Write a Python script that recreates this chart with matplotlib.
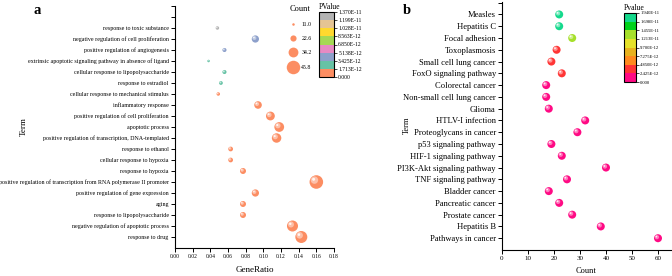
import matplotlib
matplotlib.use("Agg")
import matplotlib.pyplot as plt
import matplotlib.colors as mcolors
from matplotlib.colorbar import ColorbarBase
from matplotlib.lines import Line2D
from matplotlib.transforms import offset_copy

plt.rcParams["font.family"] = ["Liberation Serif", "DejaVu Serif"]

DPI = 100

# ---- panel a: GO terms (top to bottom) ----
go_terms = [
    "response to toxic substance",
    "negative regulation of cell proliferation",
    "positive regulation of angiogenesis",
    "extrinsic apoptotic signaling pathway in absence of ligand",
    "cellular response to lipopolysaccharide",
    "response to estradiol",
    "cellular response to mechanical stimulus",
    "inflammatory response",
    "positive regulation of cell proliferation",
    "apoptotic process",
    "positive regulation of transcription, DNA-templated",
    "response to ethanol",
    "cellular response to hypoxia",
    "response to hypoxia",
    "positive regulation of transcription from RNA polymerase II promoter",
    "positive regulation of gene expression",
    "aging",
    "response to lipopolysaccharide",
    "negative regulation of apoptotic process",
    "response to drug",
]
go_ratio = [0.048, 0.091, 0.056, 0.038, 0.056, 0.052, 0.049, 0.094, 0.108, 0.118,
            0.115, 0.063, 0.063, 0.077, 0.160, 0.091, 0.077, 0.077, 0.133, 0.143]
go_count = [14, 26, 16, 11, 16, 15, 14, 27, 31, 34,
            33, 18, 18, 22, 46, 26, 22, 22, 38, 41]
go_pvalue = [1.30e-11, 4.5e-12, 4.5e-12, 2.5e-12, 2.5e-12, 2.5e-12, 8e-13, 3e-13, 2e-13, 1e-13,
             1e-13, 5e-13, 5e-13, 4e-13, 1e-14, 3e-13, 6e-13, 6e-13, 1e-14, 1e-14]
go_bounds = [0, 1.713e-12, 3.425e-12, 5.138e-12, 6.850e-12, 8.563e-12, 1.028e-11, 1.199e-11, 1.370e-11]
go_bound_labels = ["0.000", "1.713E-12", "3.425E-12", "5.138E-12", "6.850E-12",
                   "8.563E-12", "1.028E-11", "1.199E-11", "1.370E-11"]
go_colors = ["#FC8D62", "#66C2A5", "#8DA0CB", "#E78AC3", "#A6D854", "#FFD92F", "#E5C494", "#B3B3B3"]
count_legend = [11.0, 22.6, 34.2, 45.8]

# ---- panel b: KEGG pathways (top to bottom) ----
kegg_terms = [
    "Measles", "Hepatitis C", "Focal adhesion", "Toxoplasmosis", "Small cell lung cancer",
    "FoxO signaling pathway", "Colorectal cancer", "Non-small cell lung cancer", "Glioma",
    "HTLV-I infection", "Proteoglycans in cancer", "p53 signaling pathway",
    "HIF-1 signaling pathway", "PI3K-Akt signaling pathway", "TNF signaling pathway",
    "Bladder cancer", "Pancreatic cancer", "Prostate cancer", "Hepatitis B", "Pathways in cancer",
]
kegg_count = [22, 22, 27, 21, 19, 23, 17, 17, 18, 32, 29, 19, 23, 40, 25, 18, 22, 27, 38, 60]
kegg_pvalue = [1.85e-11, 1.85e-11, 1.33e-11, 3.5e-12, 3.5e-12, 3.5e-12, 5e-13, 5e-13, 5e-13, 3e-13,
               3e-13, 5e-13, 3e-13, 2e-13, 3e-13, 5e-13, 3e-13, 3e-13, 1e-13, 1e-14]
kegg_bounds = [0, 2.425e-12, 4.850e-12, 7.275e-12, 9.700e-12, 1.213e-11, 1.455e-11, 1.698e-11, 1.940e-11]
kegg_bound_labels = ["0.000", "2.425E-12", "4.850E-12", "7.275E-12", "9.700E-12",
                     "1.213E-11", "1.455E-11", "1.698E-11", "1.940E-11"]
kegg_colors = ["#FF0A84", "#FF3535", "#FF8A1E", "#E8B21E", "#E6E22A", "#A6E02A", "#00D21A", "#14D98C"]


def count_to_diameter(c):
    # bubble diameter in pixels, linear between legend min and max
    return 2.5 + (c - 11.0) * 11.0 / 34.8


def draw_balls(fig, ax, xs, ys, diams, colors):
    """Circles with a little highlight so they look like spheres."""
    for x, y, d, c in zip(xs, ys, diams, colors):
        dpt = d * 72.0 / DPI
        ax.scatter([x], [y], s=dpt ** 2, color=c, edgecolors="none", zorder=3, clip_on=False)
        light = [v + (1 - v) * 0.45 for v in mcolors.to_rgb(c)]
        tr = offset_copy(ax.transData, fig=fig, x=-0.14 * dpt, y=0.14 * dpt, units="points")
        ax.scatter([x], [y], s=(0.55 * dpt) ** 2, color=light, edgecolors="none",
                   zorder=4, transform=tr, clip_on=False)
        tr2 = offset_copy(ax.transData, fig=fig, x=-0.2 * dpt, y=0.2 * dpt, units="points")
        ax.scatter([x], [y], s=(0.22 * dpt) ** 2, color="white", alpha=0.85, edgecolors="none",
                   zorder=5, transform=tr2, clip_on=False)


def style_axes(ax, xfs, yfs):
    for side in ("top", "right"):
        ax.spines[side].set_visible(False)
    for side in ("left", "bottom"):
        ax.spines[side].set_linewidth(0.8)
    ax.tick_params(direction="out", length=3, width=0.7, pad=1.5)
    ax.tick_params(axis="x", labelsize=xfs)
    ax.tick_params(axis="y", labelsize=yfs)


def add_pvalue_bar(fig, rect, colors, bounds, labels, title, fs):
    cax = fig.add_axes(rect)
    cmap = mcolors.ListedColormap(colors)
    norm = mcolors.BoundaryNorm(bounds, cmap.N)
    cb = ColorbarBase(cax, cmap=cmap, norm=norm, boundaries=bounds, ticks=bounds,
                      orientation="vertical")
    cb.set_ticklabels(labels)
    cb.outline.set_linewidth(0.8)
    cax.tick_params(labelsize=fs, length=2, width=0.5, pad=1)
    cax.set_title(title, fontsize=5.5, pad=2, loc="left")
    return cb


fig = plt.figure(figsize=(672 / DPI, 276 / DPI), dpi=DPI)

# ---------------- panel a ----------------
axa = fig.add_axes([175 / 672, 28 / 276, 159 / 672, 242 / 276])
n_a = len(go_terms)
ya = [n_a - i for i in range(n_a)]
cmap_a = mcolors.ListedColormap(go_colors)
norm_a = mcolors.BoundaryNorm(go_bounds, cmap_a.N)
cols_a = [cmap_a(norm_a(p)) for p in go_pvalue]
draw_balls(fig, axa, go_ratio, ya, [count_to_diameter(c) for c in go_count], cols_a)
axa.set_xlim(0, 0.18)
axa.set_ylim(0, n_a + 2)
axa.set_xticks([i * 0.02 for i in range(10)])
axa.set_xticklabels(["%.2f" % (i * 0.02) for i in range(10)])
axa.set_yticks(ya + [n_a + 1, n_a + 2])
axa.set_yticklabels(go_terms + ["", ""])
style_axes(axa, 4, 4.3)
axa.set_xlabel("GeneRatio", fontsize=6.5, labelpad=5)
axa.set_ylabel("Term", fontsize=6.5)
axa.yaxis.set_label_coords(-0.925, 0.5)

add_pvalue_bar(fig, [319 / 672, 199 / 276, 15 / 672, 65 / 276],
               go_colors, go_bounds, go_bound_labels, "PValue", 4.1)

handles = [Line2D([], [], linestyle="none", marker="o", color="#FC8D62",
                  markeredgewidth=0, markersize=count_to_diameter(c) * 72 / DPI)
           for c in count_legend]
leg = axa.legend(handles, ["%.1f" % c for c in count_legend], title="Count",
                 loc="upper left", bbox_to_anchor=(285 / 672, 1 - 1 / 276),
                 bbox_transform=fig.transFigure, frameon=False, fontsize=4.2,
                 title_fontsize=6, handlelength=1.2, handletextpad=0.9,
                 labelspacing=1.55, borderpad=0.2)

fig.text(33 / 672, 1 - 10 / 276, "a", fontsize=10.5, fontweight="bold", va="center")

# ---------------- panel b ----------------
axb = fig.add_axes([502 / 672, 26 / 276, 169 / 672, 248.5 / 276])
n_b = len(kegg_terms)
yb = [n_b - i for i in range(n_b)]
cmap_b = mcolors.ListedColormap(kegg_colors)
norm_b = mcolors.BoundaryNorm(kegg_bounds, cmap_b.N)
cols_b = [cmap_b(norm_b(p)) for p in kegg_pvalue]
draw_balls(fig, axb, kegg_count, yb, [8.0] * n_b, cols_b)
axb.set_xlim(0, 65)
axb.set_ylim(0, n_b + 1.1)
axb.set_xticks(range(0, 61, 10))
axb.set_yticks(yb + [n_b + 1])
axb.set_yticklabels(kegg_terms + [""])
style_axes(axb, 5, 6.1)
axb.set_xlabel("Count", fontsize=6, labelpad=4)
axb.set_ylabel("Term", fontsize=6)
axb.yaxis.set_label_coords(-0.54, 0.5)

add_pvalue_bar(fig, [624 / 672, 194 / 276, 12 / 672, 69 / 276],
               kegg_colors, kegg_bounds, kegg_bound_labels, "Pvalue", 3.3)

fig.text(403 / 672, 1 - 10 / 276, "b", fontsize=10.5, fontweight="bold", va="center")

fig.savefig("out.png", dpi=DPI)
